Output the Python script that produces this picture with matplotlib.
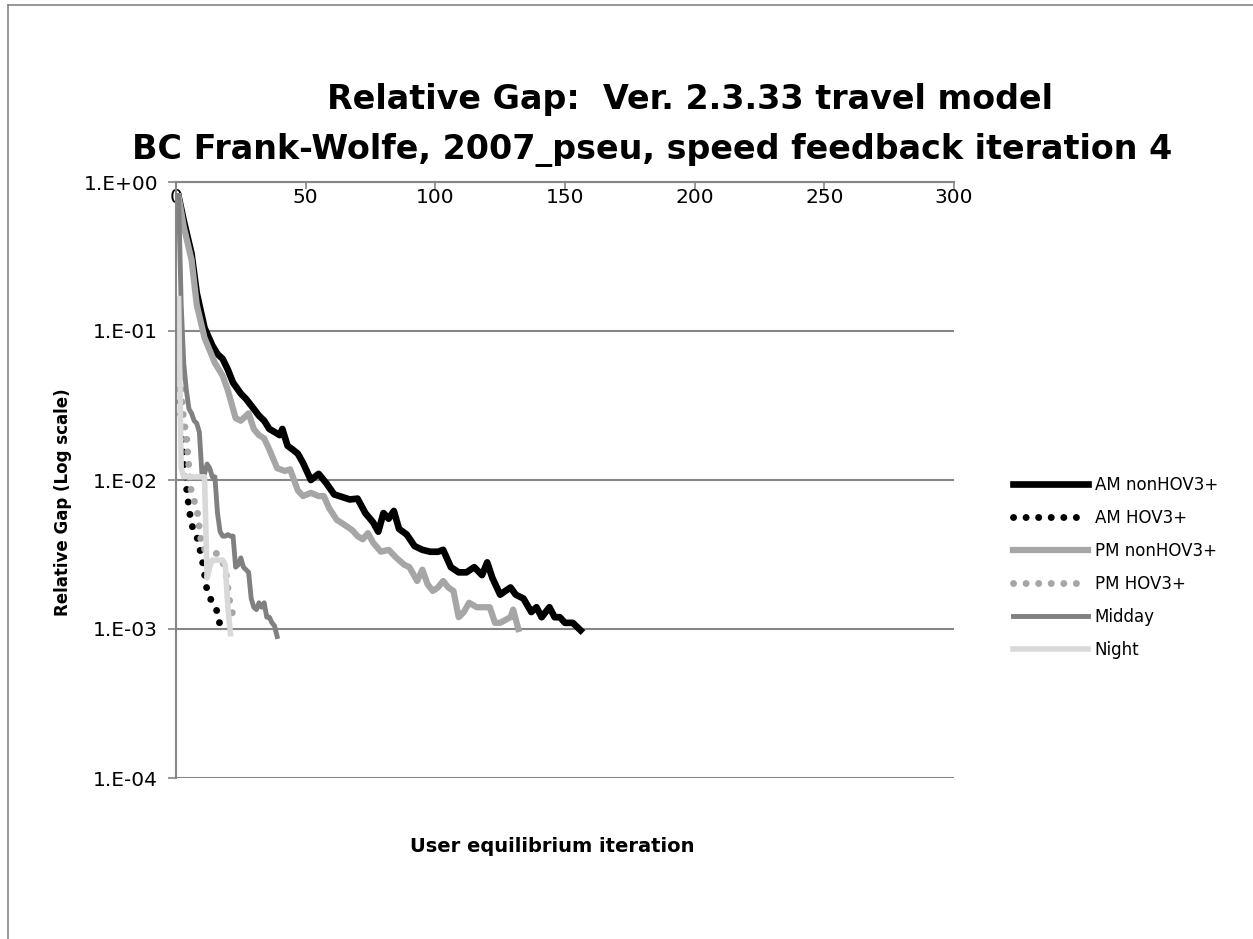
import numpy as np
import matplotlib.pyplot as plt
from matplotlib.lines import Line2D

plt.rcParams['font.family'] = ['DejaVu Sans']

# values (iteration, relative gap)
am_non_x = [1, 3, 6, 8, 11, 14, 16, 18, 20, 22, 25, 27, 30, 32, 34, 36, 38, 40, 41, 43, 45, 47, 49,
            52, 55, 58, 61, 64, 67, 70, 73, 76, 78, 80, 82, 84, 86, 89, 92, 95, 98, 101, 103, 106,
            109, 112, 115, 118, 120, 122, 125, 127, 129, 131, 134, 137, 139, 141, 144, 146, 148,
            150, 153, 156]
am_non_y = [0.80, 0.55, 0.33, 0.18, 0.105, 0.08, 0.07, 0.065, 0.055, 0.045, 0.038, 0.035, 0.03,
            0.027, 0.025, 0.022, 0.021, 0.02, 0.022, 0.017, 0.016, 0.015, 0.013, 0.010, 0.011,
            0.0095, 0.008, 0.0077, 0.0074, 0.0075, 0.006, 0.0052, 0.0045, 0.006, 0.0055, 0.0062,
            0.0047, 0.0043, 0.0036, 0.0034, 0.0033, 0.0033, 0.0034, 0.0026, 0.0024, 0.0024,
            0.0026, 0.0023, 0.0028, 0.0022, 0.0017, 0.0018, 0.0019, 0.0017, 0.0016, 0.0013,
            0.0014, 0.0012, 0.0014, 0.0012, 0.0012, 0.0011, 0.0011, 0.00098]

am_hov_x = [1, 2, 3, 4, 5, 6, 8, 10, 12, 14, 16, 17]
am_hov_y = [0.06, 0.025, 0.013, 0.009, 0.0065, 0.005, 0.0042, 0.003, 0.0018, 0.0015, 0.0013, 0.00105]

pm_non_x = [1, 3, 6, 8, 11, 15, 18, 20, 23, 25, 28, 30, 32, 34, 36, 39, 42, 44, 47, 49, 52, 55,
            57, 59, 62, 65, 68, 70, 72, 74, 76, 79, 82, 85, 88, 90, 93, 95, 97, 99, 101, 103, 105,
            107, 109, 111, 113, 116, 119, 121, 123, 125, 127, 129, 130, 132]
pm_non_y = [0.80, 0.5, 0.3, 0.15, 0.09, 0.061, 0.05, 0.04, 0.026, 0.025, 0.028, 0.022, 0.02,
            0.019, 0.016, 0.012, 0.0115, 0.0118, 0.0085, 0.0078, 0.0082, 0.0078, 0.0078, 0.0065,
            0.0054, 0.005, 0.0046, 0.0042, 0.0040, 0.0044, 0.0038, 0.0033, 0.0034, 0.0030,
            0.0027, 0.0026, 0.0021, 0.0025, 0.0020, 0.0018, 0.0019, 0.0021, 0.0019, 0.0018,
            0.0012, 0.0013, 0.0015, 0.0014, 0.0014, 0.0014, 0.0011, 0.0011, 0.00115, 0.0012,
            0.00135, 0.001]

pm_hov_x = [1, 2, 3, 4, 5, 6, 8, 9, 10, 13, 16, 19, 20, 21, 23]
pm_hov_y = [0.13, 0.04, 0.025, 0.02, 0.012, 0.008, 0.0066, 0.0048, 0.0035, 0.0033, 0.0032,
            0.0026, 0.0019, 0.0014, 0.0011]

midday_x = list(range(1, 40))
midday_y = [0.8, 0.15, 0.06, 0.04, 0.03, 0.028, 0.025, 0.024, 0.021, 0.011, 0.011, 0.0128,
            0.012, 0.0105, 0.0105, 0.006, 0.0045, 0.0042, 0.0042, 0.0043, 0.0042, 0.0042,
            0.0026, 0.0027, 0.003, 0.0026, 0.0025, 0.0024, 0.0016, 0.0014, 0.00135, 0.0015,
            0.0014, 0.0015, 0.0012, 0.0012, 0.0011, 0.00105, 0.00089]

night_x = list(range(1, 22))
night_y = [0.165, 0.012, 0.0105, 0.0105, 0.0105, 0.0105, 0.0105, 0.0105, 0.0105, 0.0105, 0.0105,
           0.0022, 0.0026, 0.0029, 0.0029, 0.0029, 0.0029, 0.0029, 0.0027, 0.0014, 0.00093]

xticks = [0, 50, 100, 150, 200, 250, 300]
yticks = [1e0, 1e-1, 1e-2, 1e-3, 1e-4]
ytick_labels = ['1.E+00', '1.E-01', '1.E-02', '1.E-03', '1.E-04']

W, H = 1253, 939
fig = plt.figure(figsize=(W / 100, H / 100), dpi=100)
ax = fig.add_axes([176 / W, 1 - 778 / H, (954 - 176) / W, (778 - 182) / H])

dot = (0, (0.01, 1.8))
ax.plot(am_non_x, am_non_y, color='black', lw=4.8, label='AM nonHOV3+', solid_joinstyle='round')
ax.plot(am_hov_x, am_hov_y, color='black', lw=5, ls=dot, dash_capstyle='round', label='AM HOV3+')
ax.plot(pm_non_x, pm_non_y, color='#a6a6a6', lw=4.5, label='PM nonHOV3+', solid_joinstyle='round')
ax.plot(pm_hov_x, pm_hov_y, color='#a6a6a6', lw=5, ls=dot, dash_capstyle='round', label='PM HOV3+')
ax.plot(midday_x, midday_y, color='#808080', lw=3.5, label='Midday', solid_joinstyle='round')
ax.plot(night_x, night_y, color='#d9d9d9', lw=4, label='Night', solid_joinstyle='round')

ax.set_yscale('log')
ax.set_ylim(1e-4, 1)
ax.set_xlim(0, 300)
ax.set_yticks(yticks)
ax.set_yticklabels(ytick_labels)
ax.minorticks_off()
ax.set_xticks(xticks)
ax.set_xticklabels([str(t) for t in xticks])

ax.grid(axis='y', color='#868686', lw=1.5)
ax.set_axisbelow(True)
for s in ['right', 'bottom']:
    ax.spines[s].set_visible(False)
for s in ['left', 'top']:
    ax.spines[s].set_color('#868686')
    ax.spines[s].set_linewidth(1.5)

ax.tick_params(axis='x', top=True, bottom=False, labeltop=True, labelbottom=False,
               direction='in', length=5, width=1.2, color='#868686', pad=-18, labelsize=14.5)
ax.tick_params(axis='y', direction='out', length=6, width=1.2, color='#868686', labelsize=14.5, pad=7)

ax.set_ylabel('Relative Gap (Log scale)', fontsize=12, fontweight='bold')
ax.yaxis.set_label_coords((72 - 176) / 778, 1 - (502 - 182) / 596)
fig.text(552 / W, 1 - 847 / H, 'User equilibrium iteration', ha='center', va='center',
         fontsize=14, fontweight='bold')

fig.text(690 / W, 1 - 100 / H, 'Relative Gap:  Ver. 2.3.33 travel model', ha='center',
         va='center', fontsize=24, fontweight='bold')
fig.text(652 / W, 1 - 150 / H, 'BC Frank-Wolfe, 2007_pseu, speed feedback iteration 4',
         ha='center', va='center', fontsize=24, fontweight='bold')

fig.legend(loc='upper left', bbox_to_anchor=(1013 / W, 1 - 476 / H), frameon=False,
           fontsize=12, handlelength=4.5, handletextpad=0.4, labelspacing=0.9,
           borderpad=0, borderaxespad=0)

# chart area border
fig.add_artist(Line2D([8 / W, 1.0], [1 - 5 / H, 1 - 5 / H], color='#868686', lw=1.2))
fig.add_artist(Line2D([8 / W, 8 / W], [0, 1 - 5 / H], color='#868686', lw=1.2))

fig.savefig('out.png', dpi=100)
